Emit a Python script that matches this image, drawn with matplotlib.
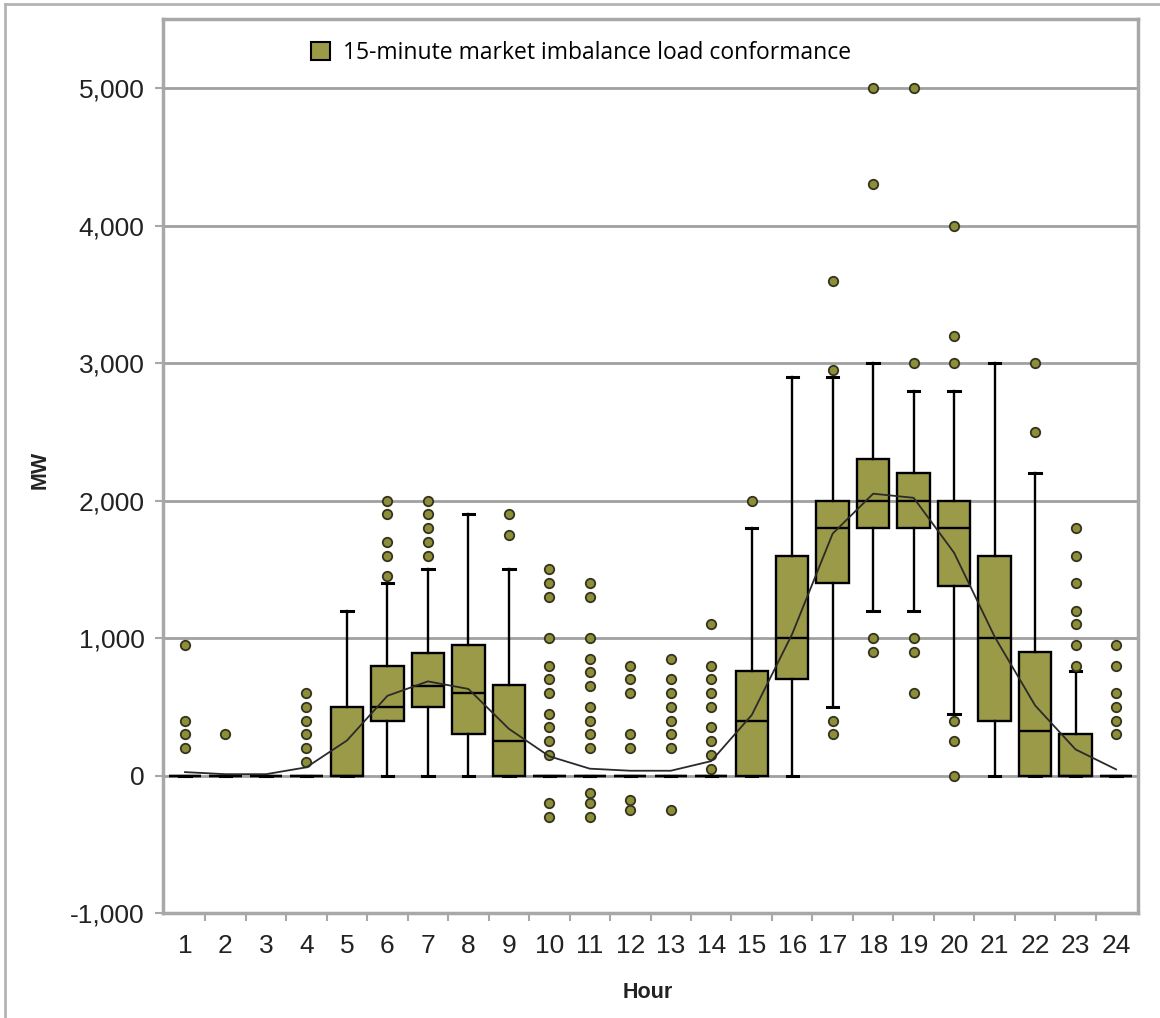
"""
Box plot - 15-minute market imbalance load conformance by hour
"""
import matplotlib
matplotlib.use('Agg')
import matplotlib.pyplot as plt
from matplotlib.lines import Line2D
from matplotlib.patches import Patch

# ── data ──────────────────────────────────────────────────────────────────────
hours = list(range(1, 25))

q1 = [0, 0, 0, 0, 0, 400, 500, 300, 0, 0, 0, 0,
      0, 0, 0, 700, 1400, 1800, 1800, 1380, 400, 0, 0, 0]
med = [0, 0, 0, 0, 0, 500, 650, 600, 250, 0, 0, 0,
       0, 0, 400, 1000, 1800, 2000, 2000, 1800, 1000, 325, 0, 0]
q3 = [0, 0, 0, 0, 500, 800, 890, 950, 660, 0, 0, 0,
      0, 0, 760, 1600, 2000, 2300, 2200, 2000, 1600, 900, 300, 0]
whislo = [0, 0, 0, 0, 0, 0, 0, 0, 0, 0, 0, 0,
          0, 0, 0, 0, 500, 1200, 1200, 450, 0, 0, 0, 0]
whishi = [0, 0, 0, 0, 1200, 1400, 1500, 1900, 1500, 0, 0, 0,
          0, 0, 1800, 2900, 2900, 3000, 2800, 2800, 3000, 2200, 760, 0]
means = [25, 10, 10, 60, 255, 580, 685, 630, 340, 140, 50, 35,
         35, 105, 440, 1030, 1760, 2050, 2020, 1620, 1010, 510, 190, 45]

fliers = [
    [950, 400, 300, 200],
    [300],
    [],
    [600, 500, 400, 300, 200, 100],
    [],
    [2000, 1900, 1700, 1600, 1450],
    [2000, 1900, 1800, 1700, 1600],
    [],
    [1900, 1750],
    [1500, 1400, 1300, 1000, 800, 700, 600, 450, 350, 250, 150, -200, -300],
    [1400, 1300, 1000, 850, 750, 650, 500, 400, 300, 200, -130, -200, -300],
    [800, 700, 600, 300, 200, -180, -250],
    [850, 700, 600, 500, 400, 300, 200, -250],
    [1100, 800, 700, 600, 500, 350, 250, 150, 50],
    [2000],
    [],
    [3600, 2950, 400, 300],
    [5000, 4300, 1000, 900],
    [5000, 3000, 1000, 900, 600],
    [4000, 3200, 3000, 400, 250, 0],
    [],
    [3000, 2500],
    [1800, 1600, 1400, 1200, 1100, 950, 800],
    [950, 800, 600, 500, 400, 300],
]

y_ticks = [-1000, 0, 1000, 2000, 3000, 4000, 5000]
series_name = '15-minute market imbalance load conformance'

# ── styles ────────────────────────────────────────────────────────────────────
BOX_COLOR = '#9a9a48'
DOT_COLOR = '#8e8e38'
FRAME = '#a8a8a8'
FONT = ['Liberation Sans', 'DejaVu Sans']

stats = []
for i, h in enumerate(hours):
    stats.append(dict(q1=q1[i], med=med[i], q3=q3[i], whislo=whislo[i],
                      whishi=whishi[i], fliers=fliers[i], label=str(h)))

fig = plt.figure(figsize=(11.6, 10.18), dpi=100)
ax = fig.add_axes([0.1403, 0.1031, 0.841, 0.8779])

ax.bxp(stats, positions=hours, widths=0.8, capwidths=0.28,
       patch_artist=True, showfliers=True,
       boxprops=dict(facecolor=BOX_COLOR, edgecolor='black', linewidth=1.7),
       medianprops=dict(color='black', linewidth=1.7),
       whiskerprops=dict(color='black', linewidth=1.7),
       capprops=dict(color='black', linewidth=2.2),
       flierprops=dict(marker='o', markerfacecolor=DOT_COLOR,
                       markeredgecolor='#333322', markersize=6.8,
                       markeredgewidth=1.3),
       zorder=3)

ax.plot(hours, means, color='#2a2a2a', linewidth=1.3, zorder=5)

ax.set_xlim(0.45, 24.55)
ax.set_ylim(-1000, 5500)

ax.set_yticks(y_ticks)
ax.set_yticklabels([f'{v:,}' for v in y_ticks], family=FONT, fontsize=19)
ax.set_xticks(hours)
ax.set_xticklabels([str(h) for h in hours], family=FONT, fontsize=19)
ax.set_xticks([h + 0.5 for h in hours[:-1]], minor=True)
ax.tick_params(axis='x', which='major', length=0, pad=15, colors='#222222')
ax.tick_params(axis='x', which='minor', length=6, width=1.5, color=FRAME)
ax.tick_params(axis='y', length=6, width=1.5, color=FRAME, pad=7,
               labelcolor='#222222')

ax.yaxis.grid(True, color='#a0a0a0', linewidth=2)
ax.set_axisbelow(True)
for s in ax.spines.values():
    s.set_color(FRAME)
    s.set_linewidth(2.5)

# legend
handle = Patch(facecolor=BOX_COLOR, edgecolor='black', linewidth=1.5)
fig.legend([handle], [series_name], loc='center left',
           bbox_to_anchor=(311 / 1160, 1 - 53 / 1018), frameon=False,
           borderpad=0, borderaxespad=0, handlelength=0.85, handleheight=0.85,
           handletextpad=0.55, prop=dict(family=['Open Sans', 'DejaVu Sans'], size=16.5))

# axis titles
fig.text(40 / 1160, 1 - 470 / 1018, 'MW', rotation=90, ha='center', va='center',
         family=FONT, fontsize=15.5, fontweight='bold', color='#222222')
fig.text(648 / 1160, 1 - 993 / 1018, 'Hour', ha='center', va='center',
         family=FONT, fontsize=15.5, fontweight='bold', color='#222222')

# outer frame (left and top edges visible in the source)
fig.add_artist(Line2D([5 / 1160, 5 / 1160], [0, 1 - 4 / 1018],
                      transform=fig.transFigure, color='#b4b4b4', linewidth=2))
fig.add_artist(Line2D([5 / 1160, 1], [1 - 4 / 1018, 1 - 4 / 1018],
                      transform=fig.transFigure, color='#b4b4b4', linewidth=2))

fig.savefig('out.png', dpi=100)
plt.close(fig)
